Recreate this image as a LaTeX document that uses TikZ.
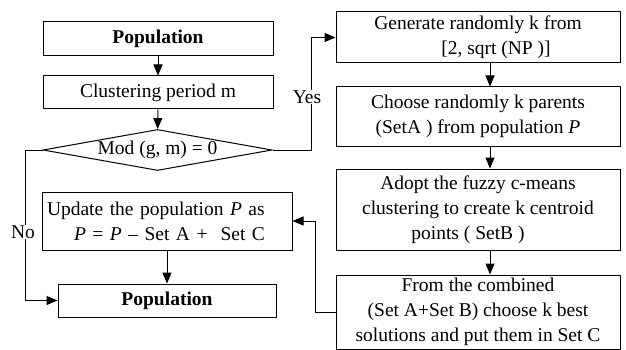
\documentclass[tikz,border=0pt]{standalone}
\usepackage{fontspec}
\setmainfont{Liberation Serif}
\usetikzlibrary{arrows.meta, shapes.geometric, positioning}

\begin{document}
\begin{tikzpicture}[
    x=1pt, y=-1pt, line width=1pt,
    font=\fontsize{19.5}{25}\selectfont,
    >={Triangle[length=11pt, width=9pt]},
    proc_box/.style ={draw, inner sep=2pt, align=center},
    left_box/.style ={proc_box, minimum width=230pt, minimum height=34pt},
    right_box/.style={proc_box, minimum width=284pt},
    decision/.style ={draw, diamond, aspect=5.6, inner sep=0pt, minimum width=229pt, minimum height=41pt},
    branch/.style   ={fill=white, inner sep=1pt}
]
\useasboundingbox (0,0) rectangle (626,350);

% Left column
\node[left_box, font=\fontsize{19.5}{25}\selectfont\bfseries] (pop_top) at (158,39) {Population};
\node[left_box, minimum height=33pt] (clust) at (158,92.5) {Clustering period m};
\node[decision] (mod) at (157.5,150) {Mod (g, m) = 0};
\node[draw, align=left, text width=240pt, inner sep=5pt, minimum height=58pt] (update) at (167,221)
    {Update the population \textit{P} as\\ \hspace*{27pt}\textit{P} = \textit{P} -- Set A + \ Set C};
\node[left_box, minimum width=218pt, minimum height=33pt, font=\fontsize{19.5}{25}\selectfont\bfseries] (pop_bot) at (167,300.5) {Population};

% Right column
\node[right_box, minimum height=51pt] (gen_k) at (478,37.5) {Generate randomly k from\\ \hspace*{36pt}[2, sqrt (NP )]};
\node[right_box, minimum height=59pt] (choose_k) at (478,116.5) {Choose randomly k parents\\ (SetA ) from population \textit{P}};
\node[right_box, minimum height=81pt] (fcm) at (478,209.5) {Adopt the fuzzy c-means\\ clustering to create k centroid\\ \hspace*{-20pt}points ( SetB )};
\node[right_box, minimum height=74pt] (combine) at (478,312) {From the combined\\ (Set A+Set B) choose k best\\ solutions and put them in Set C};

% Arrows, left
\draw[->] (pop_top) -- (clust);
\draw[->] (clust) -- (mod);
\draw[->] (update) -- (pop_bot);
\coordinate (no_turn) at (25,150);
\draw[->] (mod.west) -- (no_turn) |- (pop_bot.west);
\node[branch] (no_lbl) at (23,232) {No};

% Arrows, right
\coordinate (yes_turn) at (311,150);
\draw[->] (mod.east) -- (yes_turn) |- (gen_k.west);
\node[branch] (yes_lbl) at (307,97) {Yes};
\draw[->] ([xshift=12pt]gen_k.south) -- ([xshift=12pt]choose_k.north);
\draw[->] ([xshift=12pt]choose_k.south) -- ([xshift=12pt]fcm.north);
\draw[->] ([xshift=12pt]fcm.south) -- ([xshift=12pt]combine.north);
\coordinate (back_turn) at (315,312);
\draw[->] (combine.west) -- (back_turn) |- (update.east);

\end{tikzpicture}
\end{document}
